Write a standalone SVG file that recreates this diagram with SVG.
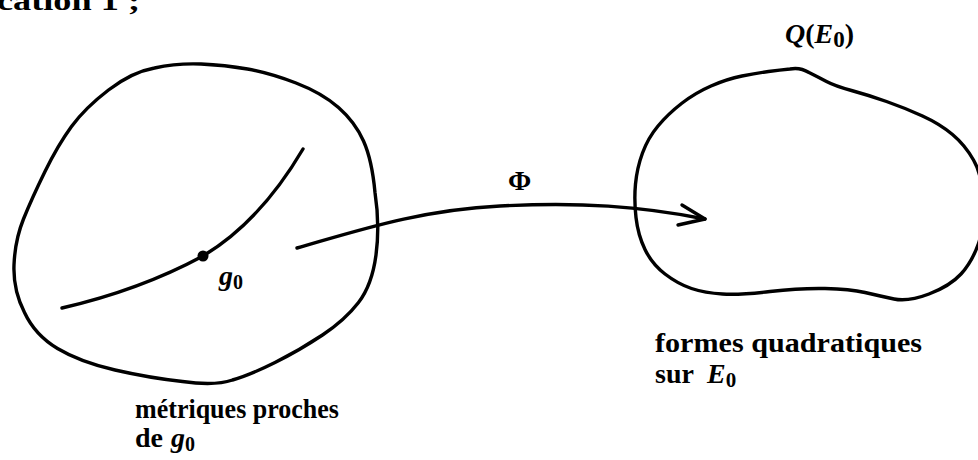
<svg xmlns="http://www.w3.org/2000/svg" width="978" height="460" viewBox="0 0 978 460">
<style>
.ln{fill:none;stroke:#000;stroke-width:3.4;stroke-linecap:round;stroke-linejoin:round}
.t{font-family:"Liberation Serif","Times New Roman",serif;font-weight:bold;font-size:28px;fill:#000}
.m{font-family:"Liberation Serif","Times New Roman",serif;font-weight:bold;font-style:italic;font-size:28px;fill:#000}
.up{font-style:normal}
</style>
<rect width="978" height="460" fill="#fff"/>
<text class="t" x="-3" y="10" font-size="30" textLength="143" lengthAdjust="spacingAndGlyphs">cation 1 ;</text>
<g id="node-metrics">
<path class="ln" d="M154.5,68 Q177,63 201,64 Q225,65 247.5,69 Q270,73 296,83 Q322,93 338.5,107.5 Q355,122 363.5,141 Q372,160 375,192.5 Q380,225 376,255 Q372,285 358.5,302.5 Q345,320 322.5,335 Q300,350 275,362.5 Q250,375 232.5,380 Q215,386 182.5,381.5 Q150,378 115,370 Q80,362 57.5,348.5 Q35,335 24.5,312.5 Q13,290 14,265 Q15,240 23.5,219 Q32,198 45,171.5 Q58,145 71.5,126.5 Q85,108 108.5,90 Q132,72 154.5,68 Z"/>
<path class="ln" d="M62,308 Q140,290 203,256 Q260,222 303,149"/>
<circle cx="203" cy="256" r="5.5" fill="#000"/>
<text class="m" x="219" y="285">g<tspan class="up" font-size="20" dy="4">0</tspan></text>
<text class="t" x="135" y="418" textLength="204" lengthAdjust="spacingAndGlyphs">métriques proches</text>
<text class="t" x="135" y="447">de</text>
<text class="m" x="171" y="447">g<tspan class="up" font-size="20" dy="4">0</tspan></text>
</g>
<g id="node-quadratic">
<path class="ln" d="M768.5,71.5 Q780,70 790,69 Q800,67 809,72.5 Q818,77 826.5,81.5 Q835,86 851.5,90.5 Q868,95 886.5,101.5 Q905,108 922.5,116 Q940,124 952.5,134.5 Q965,145 973.5,160 Q982,175 983.5,200 Q985,225 978.5,243.5 Q972,262 961,274 Q950,286 929,294 Q908,302 894,299 Q880,296 865,292.5 Q850,289 825,288.5 Q800,288 770,291.5 Q740,295 722.5,294 Q705,293 691.5,288.5 Q678,284 665,274 Q652,264 645,249.5 Q638,235 636,217.5 Q634,200 635.5,184 Q637,168 642.5,153 Q648,138 658,126 Q668,114 681.5,103.5 Q695,93 711,86 Q727,79 742,76 Q757,73 768.5,71.5 Z"/>
<text class="m" x="785" y="43" font-size="34">Q<tspan class="up">(</tspan>E<tspan class="up" font-size="23" dy="4">0</tspan><tspan class="up" dy="-4">)</tspan></text>
<text class="t" x="655" y="352" textLength="267" lengthAdjust="spacingAndGlyphs">formes quadratiques</text>
<text class="t" x="655" y="383">sur</text>
<text class="m" x="707" y="383" font-size="30">E<tspan class="up" font-size="21" dy="4">0</tspan></text>
</g>
<g id="connectors">
<path class="ln" d="M297,248 C360,230 420,210 500,206 C580,202 640,206 705,219"/>
<polyline class="ln" points="682,205 705,219 678,225"/>
<text class="t" x="508" y="190" font-size="34">Φ</text>
</g>
</svg>
